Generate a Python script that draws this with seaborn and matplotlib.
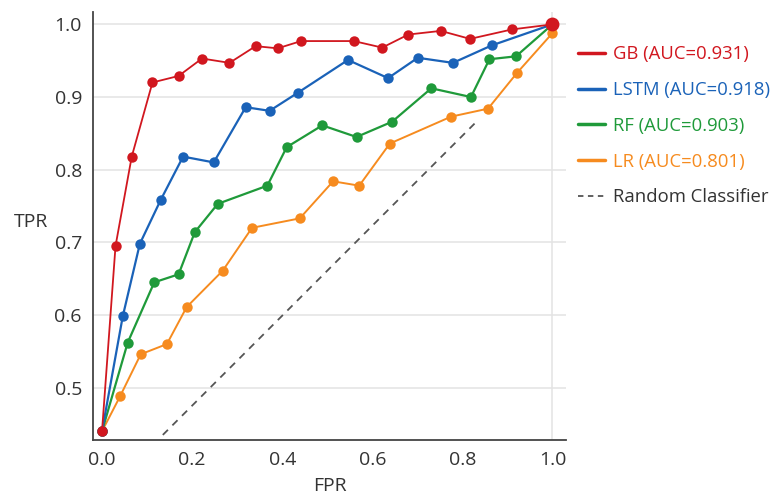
import numpy as np
import pandas as pd
import matplotlib
matplotlib.use("Agg")
import matplotlib.pyplot as plt
import seaborn as sns

# ROC points
gb_fpr = [0.0, 0.030, 0.066, 0.112, 0.170, 0.222, 0.283, 0.341, 0.390, 0.442, 0.559, 0.622, 0.680, 0.752, 0.817, 0.910, 1.0]
gb_tpr = [0.440, 0.695, 0.818, 0.920, 0.929, 0.953, 0.947, 0.970, 0.967, 0.977, 0.977, 0.968, 0.986, 0.991, 0.980, 0.993, 1.0]

lstm_fpr = [0.0, 0.046, 0.084, 0.130, 0.180, 0.248, 0.319, 0.372, 0.435, 0.546, 0.635, 0.701, 0.779, 0.865, 1.0]
lstm_tpr = [0.440, 0.598, 0.698, 0.758, 0.818, 0.810, 0.886, 0.881, 0.906, 0.951, 0.926, 0.954, 0.947, 0.971, 1.0]

rf_fpr = [0.0, 0.057, 0.116, 0.170, 0.206, 0.257, 0.367, 0.410, 0.489, 0.565, 0.644, 0.731, 0.819, 0.860, 0.919, 1.0]
rf_tpr = [0.440, 0.562, 0.645, 0.656, 0.714, 0.753, 0.778, 0.831, 0.861, 0.845, 0.866, 0.912, 0.900, 0.952, 0.956, 1.0]

lr_fpr = [0.0, 0.040, 0.086, 0.144, 0.188, 0.268, 0.333, 0.439, 0.513, 0.571, 0.639, 0.775, 0.857, 0.921, 1.0]
lr_tpr = [0.440, 0.488, 0.546, 0.560, 0.611, 0.661, 0.720, 0.733, 0.784, 0.778, 0.836, 0.873, 0.884, 0.933, 0.988]

random_fpr = [0.135, 0.836]
random_tpr = [0.435, 0.869]

models = ["GB (AUC=0.931)", "LSTM (AUC=0.918)", "RF (AUC=0.903)", "LR (AUC=0.801)"]
colors = ["#d1171f", "#1a62b8", "#1f9a3a", "#f68b1f"]
widths = [1.3, 1.6, 1.6, 1.4]

frames = []
for name, f, t in zip(models, [gb_fpr, lstm_fpr, rf_fpr, lr_fpr], [gb_tpr, lstm_tpr, rf_tpr, lr_tpr]):
    frames.append(pd.DataFrame({"FPR": f, "TPR": t, "model": name}))
df = pd.concat(frames, ignore_index=True)

sns.set_theme(style="white")
plt.rcParams["font.family"] = ["Open Sans", "DejaVu Sans"]

fig = plt.figure(figsize=(7.75, 5), dpi=100)
ax = fig.add_axes([93 / 775, 1 - 440 / 500, 473 / 775, 428 / 500])

# light grid
for yv in [0.5, 0.6, 0.7, 0.8, 0.9, 1.0]:
    ax.axhline(yv, color="#e3e3e3", lw=1.1, zorder=0)
ax.axvline(1.0, color="#e3e3e3", lw=1.1, zorder=0)

ax.plot(random_fpr, random_tpr, color="#555555", lw=1.3, ls=(0, (4, 3.5)), zorder=1)

# draw in reverse so GB sits on top
for name, c, w in list(zip(models, colors, widths))[::-1]:
    sub = df[df["model"] == name]
    sns.lineplot(data=sub, x="FPR", y="TPR", ax=ax, color=c, lw=w, sort=False,
                 marker="o", markersize=7.5, markeredgewidth=0, zorder=3)

# GB end point is drawn a bit larger in the original
ax.plot(gb_fpr[-1:], gb_tpr[-1:], "o", color=colors[0], markersize=10, markeredgewidth=0, zorder=4)

ax.set_xlim(-0.02, 1.03)
ax.set_ylim(0.428, 1.017)
ax.set_xticks([0.0, 0.2, 0.4, 0.6, 0.8, 1.0])
ax.set_yticks([0.5, 0.6, 0.7, 0.8, 0.9, 1.0])
ax.tick_params(axis="both", length=0, labelsize=14, colors="#333333", pad=8)

for s in ["top", "right"]:
    ax.spines[s].set_visible(False)
for s in ["left", "bottom"]:
    ax.spines[s].set_color("#444444")
    ax.spines[s].set_linewidth(1.3)

ax.set_xlabel("FPR", fontsize=14, color="#333333", labelpad=6)
ax.set_ylabel("TPR", fontsize=14, color="#333333", rotation=0, ha="center", va="center")
ax.yaxis.set_label_coords(-0.131, 0.51)

# legend outside on the right, text coloured like the lines
handles = [plt.Line2D([], [], color=c, lw=2.5) for c in colors] + \
          [plt.Line2D([], [], color="#555555", lw=1.3, ls=(0, (3, 2.5)))]
leg = ax.legend(handles, models + ["Random Classifier"], loc="upper left",
                bbox_to_anchor=(571 / 775, 1 - 38 / 500), bbox_transform=fig.transFigure,
                borderaxespad=0, frameon=False, fontsize=13.3, handlelength=1.45,
                handletextpad=0.43, labelspacing=0.96)
for txt, c in zip(leg.get_texts(), colors + ["#333333"]):
    txt.set_color(c)

fig.savefig("out.png", dpi=100)
